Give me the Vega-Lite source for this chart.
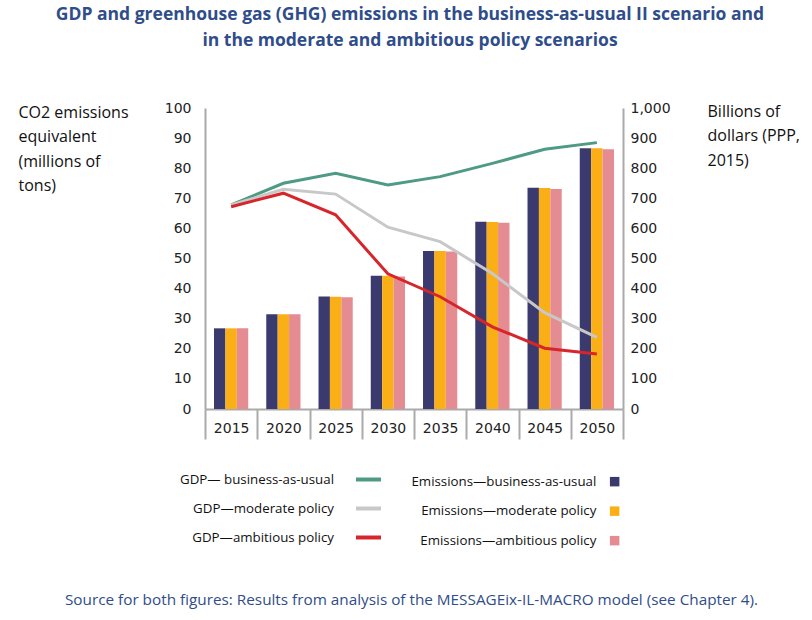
{
  "$schema": "https://vega.github.io/schema/vega-lite/v6.json",
  "width": 418,
  "height": 301,
  "autosize": {"type": "none"},
  "padding": {"left": 205, "top": 108, "right": 189, "bottom": 211},
  "background": "white",
  "title": {
    "text": ["GDP and greenhouse gas (GHG) emissions in the business-as-usual II scenario and", "in the moderate and ambitious policy scenarios"],
    "font": "Open Sans",
    "fontSize": 17.5,
    "fontWeight": "bold",
    "color": "#2F4D8A",
    "lineHeight": 26,
    "anchor": "middle",
    "frame": "group",
    "dx": -4,
    "offset": 52
  },
  "datasets": {
    "bars": [
      {"year": "2015", "series": "Emissions—business-as-usual", "gdp": 268},
      {"year": "2015", "series": "Emissions—moderate policy", "gdp": 268},
      {"year": "2015", "series": "Emissions—ambitious policy", "gdp": 268},
      {"year": "2020", "series": "Emissions—business-as-usual", "gdp": 315},
      {"year": "2020", "series": "Emissions—moderate policy", "gdp": 315},
      {"year": "2020", "series": "Emissions—ambitious policy", "gdp": 315},
      {"year": "2025", "series": "Emissions—business-as-usual", "gdp": 374},
      {"year": "2025", "series": "Emissions—moderate policy", "gdp": 373},
      {"year": "2025", "series": "Emissions—ambitious policy", "gdp": 371},
      {"year": "2030", "series": "Emissions—business-as-usual", "gdp": 443},
      {"year": "2030", "series": "Emissions—moderate policy", "gdp": 443},
      {"year": "2030", "series": "Emissions—ambitious policy", "gdp": 440},
      {"year": "2035", "series": "Emissions—business-as-usual", "gdp": 525},
      {"year": "2035", "series": "Emissions—moderate policy", "gdp": 525},
      {"year": "2035", "series": "Emissions—ambitious policy", "gdp": 523},
      {"year": "2040", "series": "Emissions—business-as-usual", "gdp": 622},
      {"year": "2040", "series": "Emissions—moderate policy", "gdp": 621},
      {"year": "2040", "series": "Emissions—ambitious policy", "gdp": 619},
      {"year": "2045", "series": "Emissions—business-as-usual", "gdp": 735},
      {"year": "2045", "series": "Emissions—moderate policy", "gdp": 734},
      {"year": "2045", "series": "Emissions—ambitious policy", "gdp": 731},
      {"year": "2050", "series": "Emissions—business-as-usual", "gdp": 866},
      {"year": "2050", "series": "Emissions—moderate policy", "gdp": 866},
      {"year": "2050", "series": "Emissions—ambitious policy", "gdp": 863}
    ],
    "lines": [
      {"year": "2015", "series": "GDP— business-as-usual", "emissions": 67.8},
      {"year": "2020", "series": "GDP— business-as-usual", "emissions": 75.0},
      {"year": "2025", "series": "GDP— business-as-usual", "emissions": 78.3},
      {"year": "2030", "series": "GDP— business-as-usual", "emissions": 74.4},
      {"year": "2035", "series": "GDP— business-as-usual", "emissions": 77.2},
      {"year": "2040", "series": "GDP— business-as-usual", "emissions": 81.6},
      {"year": "2045", "series": "GDP— business-as-usual", "emissions": 86.3},
      {"year": "2050", "series": "GDP— business-as-usual", "emissions": 88.5},
      {"year": "2015", "series": "GDP—moderate policy", "emissions": 67.8},
      {"year": "2020", "series": "GDP—moderate policy", "emissions": 73.0},
      {"year": "2025", "series": "GDP—moderate policy", "emissions": 71.4},
      {"year": "2030", "series": "GDP—moderate policy", "emissions": 60.4},
      {"year": "2035", "series": "GDP—moderate policy", "emissions": 55.6},
      {"year": "2040", "series": "GDP—moderate policy", "emissions": 45.0},
      {"year": "2045", "series": "GDP—moderate policy", "emissions": 32.0},
      {"year": "2050", "series": "GDP—moderate policy", "emissions": 23.8},
      {"year": "2015", "series": "GDP—ambitious policy", "emissions": 67.2},
      {"year": "2020", "series": "GDP—ambitious policy", "emissions": 71.7},
      {"year": "2025", "series": "GDP—ambitious policy", "emissions": 64.5},
      {"year": "2030", "series": "GDP—ambitious policy", "emissions": 44.9},
      {"year": "2035", "series": "GDP—ambitious policy", "emissions": 37.3},
      {"year": "2040", "series": "GDP—ambitious policy", "emissions": 27.3},
      {"year": "2045", "series": "GDP—ambitious policy", "emissions": 20.2},
      {"year": "2050", "series": "GDP—ambitious policy", "emissions": 18.3}
    ]
  },
  "layer": [
    {
      "data": {"name": "bars"},
      "mark": {"type": "bar"},
      "encoding": {
        "x": {
          "field": "year",
          "type": "nominal",
          "scale": {"paddingInner": 0, "paddingOuter": 0},
          "axis": {
            "title": "Source for both figures: Results from analysis of the MESSAGEix-IL-MACRO model (see Chapter 4).",
            "tickBand": "extent",
            "tickSize": 30,
            "tickColor": "#aaaaaa",
            "tickWidth": 2,
            "domainColor": "#aaaaaa",
            "domainWidth": 2,
            "labelFont": "DejaVu Sans",
            "labelFontSize": 14,
            "labelColor": "#222222",
            "labelAngle": 0,
            "labelBaseline": "middle",
            "labelPadding": -11,
            "titleFont": "Open Sans",
            "titleFontSize": 15.3,
            "titleFontWeight": "normal",
            "titleColor": "#2F4D8A",
            "titleX": 206,
            "titleY": 195,
            "titleBaseline": "alphabetic",
            "titleAlign": "center"
          }
        },
        "xOffset": {
          "field": "series",
          "type": "nominal",
          "sort": ["Emissions—business-as-usual", "Emissions—moderate policy", "Emissions—ambitious policy"],
          "scale": {"paddingInner": 0, "paddingOuter": 0.79}
        },
        "y": {
          "field": "gdp",
          "type": "quantitative",
          "scale": {"domain": [0, 1000], "nice": false},
          "axis": {
            "orient": "right",
            "values": [0, 100, 200, 300, 400, 500, 600, 700, 800, 900, 1000],
            "format": ",.0f",
            "ticks": false,
            "grid": false,
            "labelPadding": 7,
            "labelFont": "DejaVu Sans",
            "labelFontSize": 14,
            "labelColor": "#222222",
            "domainColor": "#aaaaaa",
            "domainWidth": 2,
            "title": ["Billions of", "dollars (PPP,", "2015)"],
            "titleAngle": 0,
            "titleAlign": "left",
            "titleBaseline": "alphabetic",
            "titleX": 84,
            "titleY": 8,
            "titleFont": "Open Sans",
            "titleFontSize": 16,
            "titleFontWeight": "normal",
            "titleColor": "#111111",
            "titleLineHeight": 24.5
          }
        },
        "fill": {
          "field": "series",
          "type": "nominal",
          "scale": {
            "domain": ["Emissions—business-as-usual", "Emissions—moderate policy", "Emissions—ambitious policy"],
            "range": ["#3B3A6E", "#FBAF17", "#E58B92"]
          },
          "legend": {
            "orient": "none",
            "legendX": 403,
            "legendY": 367,
            "title": null,
            "symbolType": "square",
            "symbolSize": 90,
            "symbolStrokeWidth": 0,
            "labelAlign": "right",
            "labelOffset": -25,
            "labelFont": "Open Sans",
            "labelFontSize": 13.3,
            "labelColor": "#111111",
            "labelLimit": 300,
            "rowPadding": 15.5,
            "padding": 0
          }
        }
      }
    },
    {
      "data": {"name": "lines"},
      "mark": {"type": "line", "strokeWidth": 3},
      "encoding": {
        "x": {"field": "year", "type": "nominal"},
        "y": {
          "field": "emissions",
          "type": "quantitative",
          "scale": {"domain": [0, 100], "nice": false},
          "axis": {
            "orient": "left",
            "values": [0, 10, 20, 30, 40, 50, 60, 70, 80, 90, 100],
            "ticks": false,
            "grid": false,
            "labelPadding": 14,
            "labelFont": "DejaVu Sans",
            "labelFontSize": 14,
            "labelColor": "#222222",
            "domainColor": "#aaaaaa",
            "domainWidth": 2,
            "title": ["CO2 emissions", "equivalent", "(millions of", "tons)"],
            "titleAngle": 0,
            "titleAlign": "left",
            "titleBaseline": "alphabetic",
            "titleX": -187,
            "titleY": 9,
            "titleFont": "Open Sans",
            "titleFontSize": 16,
            "titleFontWeight": "normal",
            "titleColor": "#111111",
            "titleLineHeight": 24.5
          }
        },
        "stroke": {
          "field": "series",
          "type": "nominal",
          "scale": {
            "domain": ["GDP— business-as-usual", "GDP—moderate policy", "GDP—ambitious policy"],
            "range": ["#4E9A84", "#C8C8C8", "#D7262B"]
          },
          "legend": {
            "orient": "none",
            "legendX": 149,
            "legendY": 357,
            "title": null,
            "symbolType": "stroke",
            "symbolSize": 625,
            "symbolStrokeWidth": 4,
            "labelAlign": "right",
            "labelOffset": -49,
            "labelFont": "Open Sans",
            "labelFontSize": 13.3,
            "labelColor": "#111111",
            "labelLimit": 300,
            "rowPadding": 6,
            "padding": 0
          }
        }
      }
    }
  ],
  "resolve": {"scale": {"y": "independent"}},
  "config": {"view": {"stroke": null}}
}
